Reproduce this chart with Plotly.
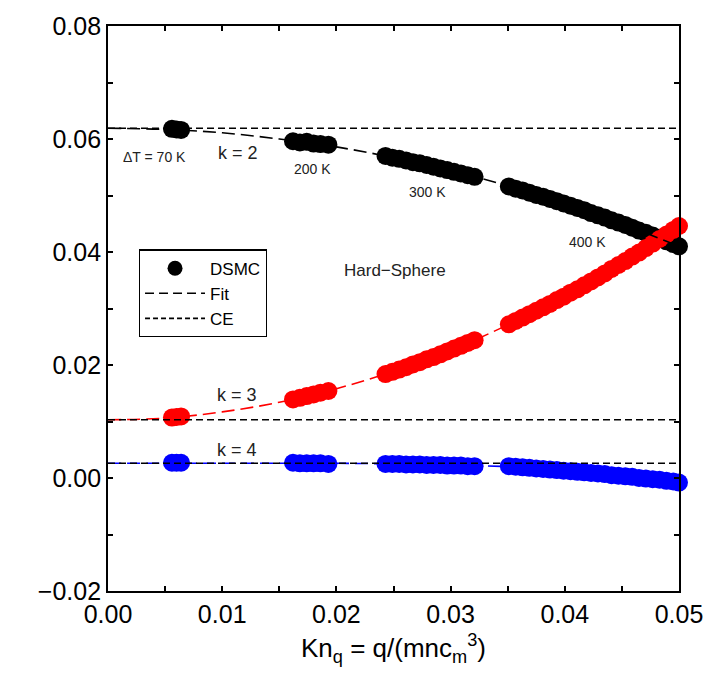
import plotly.graph_objects as go

# ---- data ----
x_70 = [0.0056, 0.0060, 0.0064]
x_200 = [0.0162, 0.0168, 0.0174, 0.0180, 0.0186, 0.0193]
x_300 = [0.0243, 0.0249, 0.0255, 0.0261, 0.0267, 0.0273, 0.0279, 0.0285,
         0.0291, 0.0297, 0.0303, 0.0309, 0.0315, 0.0321]
x_400 = [0.0351, 0.0357, 0.0363, 0.0369, 0.0375, 0.0381, 0.0387, 0.0393,
         0.0399, 0.0405, 0.0411, 0.0417, 0.0423, 0.0429, 0.0435, 0.0441,
         0.0447, 0.0453, 0.0459, 0.0465, 0.0471, 0.0477, 0.0483, 0.0489,
         0.0495, 0.0500]

k2_70 = [0.0618, 0.0617, 0.0616]
k2_200 = [0.0596, 0.0594, 0.0595, 0.0592, 0.0591, 0.0590]
k2_300 = [0.0570, 0.0567, 0.0565, 0.0562, 0.0559, 0.0557, 0.0554, 0.0551,
          0.0548, 0.0545, 0.0542, 0.0539, 0.0536, 0.0533]
k2_400 = [0.0516, 0.0512, 0.0509, 0.0505, 0.0501, 0.0498, 0.0494, 0.0490,
          0.0486, 0.0482, 0.0478, 0.0474, 0.0469, 0.0465, 0.0461, 0.0456,
          0.0452, 0.0448, 0.0443, 0.0438, 0.0434, 0.0429, 0.0424, 0.0419,
          0.0414, 0.0410]

k3_70 = [0.0107, 0.0108, 0.0109]
k3_200 = [0.0139, 0.0142, 0.0145, 0.0148, 0.0151, 0.0154]
k3_300 = [0.0184, 0.0188, 0.0192, 0.0196, 0.0201, 0.0205, 0.0210, 0.0214,
          0.0219, 0.0224, 0.0229, 0.0234, 0.0239, 0.0244]
k3_400 = [0.0272, 0.0278, 0.0284, 0.0290, 0.0296, 0.0302, 0.0308, 0.0315,
          0.0321, 0.0328, 0.0334, 0.0341, 0.0348, 0.0355, 0.0362, 0.0370,
          0.0377, 0.0384, 0.0392, 0.0399, 0.0407, 0.0415, 0.0423, 0.0431,
          0.0439, 0.0446]

k4_70 = [0.0027, 0.0027, 0.0027]
k4_200 = [0.0027, 0.0026, 0.0026, 0.0026, 0.0026, 0.0025]
k4_300 = [0.0025, 0.0025, 0.0025, 0.0024, 0.0024, 0.0024, 0.0023, 0.0023,
          0.0023, 0.0022, 0.0022, 0.0022, 0.0021, 0.0021]
k4_400 = [0.0021, 0.0020, 0.0019, 0.0018, 0.0017, 0.0016, 0.0015, 0.0014,
          0.0013, 0.0012, 0.0011, 0.0010, 0.0009, 0.0008, 0.0007, 0.0005,
          0.0004, 0.0003, 0.0002, 0.0000, -0.0001, -0.0002, -0.0003,
          -0.0005, -0.0006, -0.0008]

x_fit = [0.0, 0.005, 0.010, 0.015, 0.020, 0.025, 0.030, 0.035, 0.040, 0.045, 0.050]
fit_k2 = [0.0619, 0.0617, 0.0611, 0.0600, 0.0586, 0.0567, 0.0544, 0.0517, 0.0485, 0.0450, 0.0410]
fit_k3 = [0.0103, 0.0106, 0.0117, 0.0134, 0.0158, 0.0189, 0.0226, 0.0271, 0.0322, 0.0380, 0.0446]
fit_k4 = [0.0026, 0.0026, 0.0026, 0.0026, 0.0026, 0.0025, 0.0023, 0.0020, 0.0013, 0.0004, -0.0008]

x_ce = [0.0, 0.05]
ce_k2 = [0.0619, 0.0619]
ce_k3 = [0.0103, 0.0103]
ce_k4 = [0.0026, 0.0026]

labels = [
    ("ΔT = 70 K", 0.0041, 0.0568, 14),
    ("k = 2", 0.01136, 0.0575, 18),
    ("200 K", 0.0179, 0.0547, 14),
    ("300 K", 0.0280, 0.0507, 14),
    ("400 K", 0.0420, 0.0417, 14),
    ("Hard−Sphere", 0.0251, 0.0368, 17),
    ("k = 3", 0.01128, 0.0147, 18),
    ("k = 4", 0.01128, 0.0049, 18),
]

FONT = "Liberation Sans, Arial, sans-serif"
MS = 18

fig = go.Figure()

series = [
    ("#000000", [k2_70, k2_200, k2_300, k2_400]),
    ("#ff0000", [k3_70, k3_200, k3_300, k3_400]),
    ("#0000ff", [k4_70, k4_200, k4_300, k4_400]),
]
xs = [x_70, x_200, x_300, x_400]
for color, ys in series:
    allx, ally = [], []
    for xx, yy in zip(xs, ys):
        allx += xx
        ally += yy
    fig.add_trace(go.Scatter(x=allx, y=ally, mode="markers", cliponaxis=False,
                             marker=dict(size=MS, color=color, line=dict(width=0)),
                             showlegend=False, hoverinfo="skip"))

for color, fy in [("#000000", fit_k2), ("#ff0000", fit_k3), ("#0000ff", fit_k4)]:
    fig.add_trace(go.Scatter(x=x_fit, y=fy, mode="lines",
                             line=dict(color=color, width=1.6, dash="13px,6px", shape="spline"),
                             showlegend=False, hoverinfo="skip"))

for cy in [ce_k2, ce_k3, ce_k4]:
    fig.add_trace(go.Scatter(x=x_ce, y=cy, mode="lines",
                             line=dict(color="#000000", width=1.6, dash="7px,4px"),
                             showlegend=False, hoverinfo="skip"))

# legend entries
fig.add_trace(go.Scatter(x=[None], y=[None], mode="markers", name="DSMC",
                         marker=dict(size=15, color="#000000")))
fig.add_trace(go.Scatter(x=[None], y=[None], mode="lines", name="Fit",
                         line=dict(color="#000000", width=1.6, dash="9px,5px")))
fig.add_trace(go.Scatter(x=[None], y=[None], mode="lines", name="CE",
                         line=dict(color="#000000", width=1.6, dash="5px,3px")))

for txt, xx, yy, fs in labels:
    fig.add_annotation(x=xx, y=yy, text=txt, showarrow=False,
                       font=dict(family=FONT, size=fs, color="#222222"))

axis_common = dict(showline=True, linecolor="#000000", linewidth=1.8, mirror="ticks",
                   ticks="inside", ticklen=5, tickwidth=1.5, tickcolor="#000000",
                   showgrid=False, zeroline=False,
                   tickfont=dict(family=FONT, size=25, color="#000000"))

fig.update_layout(
    width=715, height=679,
    margin=dict(l=108, r=35, t=17, b=88),
    paper_bgcolor="white", plot_bgcolor="white",
    font=dict(family=FONT, color="#000000"),
    xaxis=dict(range=[0, 0.05], dtick=0.01, tickformat=".2f",
               minor=dict(dtick=0.005, ticks="inside", ticklen=5, tickwidth=1.5, tickcolor="#000000"),
               title=dict(text="Kn<sub>q</sub> = q/(mnc<sub>m</sub><sup>3</sup>)",
                          font=dict(family=FONT, size=26), standoff=12),
               **axis_common),
    yaxis=dict(range=[-0.02, 0.08], dtick=0.02, tickformat=".2f",
               minor=dict(dtick=0.01, ticks="inside", ticklen=5, tickwidth=1.5, tickcolor="#000000"),
               **axis_common),
    legend=dict(x=0.054, y=0.6045, xanchor="left", yanchor="top",
                bordercolor="#000000", borderwidth=1.2, bgcolor="white",
                font=dict(family=FONT, size=17, color="#000000"),
                itemwidth=60, tracegroupgap=0),
    showlegend=True,
)

fig.write_html("out.html")
